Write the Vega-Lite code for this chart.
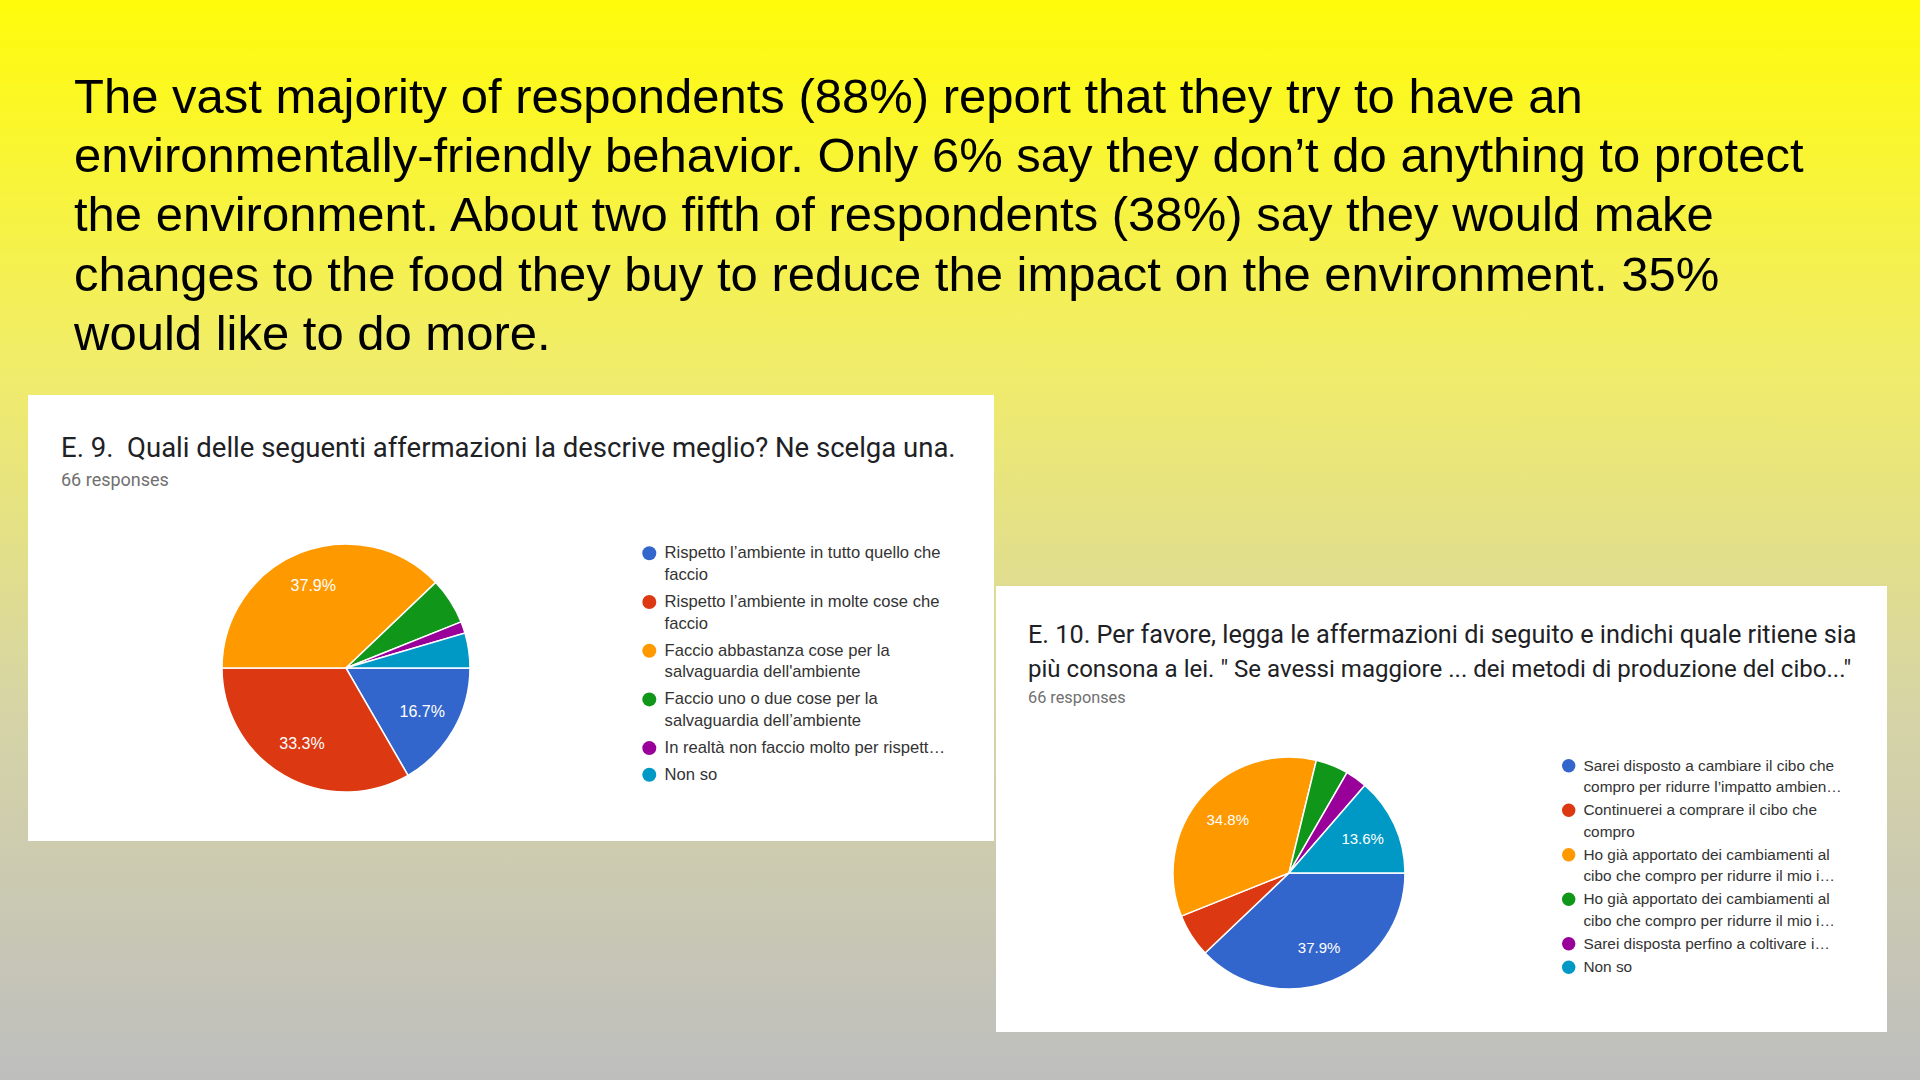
{
  "$schema": "https://vega.github.io/schema/vega-lite/v6.json",
  "width": 1920,
  "height": 1080,
  "autosize": {"type": "fit", "contains": "padding"},
  "padding": 0,
  "background": "#d8d6a0",
  "view": {"stroke": null},
  "config": {
    "style": {"guide-label": {"lineHeight": 21.8}}
  },
  "resolve": {"scale": {"color": "independent"}, "legend": {"color": "independent"}},
  "layer": [
    {
      "data": {"values": [{"part": "slide"}]},
      "mark": {
        "type": "rect", "x": 0, "x2": "width", "y": 0, "y2": "height",
        "fill": {"gradient": "linear", "x1": 0, "y1": 0, "x2": 0, "y2": 1,
          "stops": [
            {"offset": 0, "color": "#fffb0a"},
            {"offset": 0.33, "color": "#f1ed68"},
            {"offset": 0.66, "color": "#d6d4a6"},
            {"offset": 1, "color": "#bebebe"}
          ]}
      },
      "encoding": {}
    },
    {
      "data": {"values": [{"card": "E9"}]},
      "mark": {"type": "rect", "x": 28, "x2": 994, "y": 395, "y2": 841, "fill": "#ffffff"},
      "encoding": {}
    },
    {
      "data": {"values": [{"card": "E10"}]},
      "mark": {"type": "rect", "x": 996, "x2": 1887, "y": 586, "y2": 1032, "fill": "#ffffff"},
      "encoding": {}
    },
    {
      "data": {"values": [{"text": "The vast majority of respondents (88%) report that they try to have an\nenvironmentally-friendly behavior. Only 6% say they don’t do anything to protect\nthe environment. About two fifth of respondents (38%) say they would make\nchanges to the food they buy to reduce the  impact on the environment. 35%\nwould like to do more."}]},
      "mark": {"type": "text", "x": 74, "y": 113, "align": "left", "baseline": "alphabetic", "lineBreak": "\n", "lineHeight": 59.2, "font": "Liberation Sans", "fontSize": 49, "fill": "#000000"},
      "encoding": {"text": {"field": "text", "type": "nominal"}}
    },
    {
      "data": {"values": [{"text": "E. 9.\u00a0 Quali delle seguenti affermazioni la descrive meglio? Ne scelga una."}]},
      "mark": {"type": "text", "x": 61, "y": 457, "align": "left", "baseline": "alphabetic", "font": "Roboto", "fontSize": 27.5, "fill": "#202124"},
      "encoding": {"text": {"field": "text", "type": "nominal"}}
    },
    {
      "data": {"values": [{"text": "66 responses"}]},
      "mark": {"type": "text", "x": 61, "y": 486, "align": "left", "baseline": "alphabetic", "font": "Roboto", "fontSize": 18, "fill": "#707070"},
      "encoding": {"text": {"field": "text", "type": "nominal"}}
    },
    {
      "data": {"values": [{"text": "E. 10. Per favore, legga le affermazioni di seguito e indichi quale ritiene sia"}]},
      "mark": {"type": "text", "x": 1028, "y": 643, "align": "left", "baseline": "alphabetic", "font": "Roboto", "fontSize": 25.25, "fill": "#202124"},
      "encoding": {"text": {"field": "text", "type": "nominal"}}
    },
    {
      "data": {"values": [{"text": "più consona a lei. \" Se avessi maggiore ... dei metodi di produzione del cibo...\""}]},
      "mark": {"type": "text", "x": 1028, "y": 677, "align": "left", "baseline": "alphabetic", "font": "Roboto", "fontSize": 24.05, "fill": "#202124"},
      "encoding": {"text": {"field": "text", "type": "nominal"}}
    },
    {
      "data": {"values": [{"text": "66 responses"}]},
      "mark": {"type": "text", "x": 1028, "y": 703, "align": "left", "baseline": "alphabetic", "font": "Roboto", "fontSize": 16.3, "fill": "#707070"},
      "encoding": {"text": {"field": "text", "type": "nominal"}}
    },
    {
      "data": {"values": [
        {"idx": 1, "answer": "Rispetto l’ambiente in tutto quello che\nfaccio", "count": 11, "label": "16.7%"},
        {"idx": 2, "answer": "Rispetto l’ambiente in molte cose che\nfaccio", "count": 22, "label": "33.3%"},
        {"idx": 3, "answer": "Faccio abbastanza cose per la\nsalvaguardia dell'ambiente", "count": 25, "label": "37.9%"},
        {"idx": 4, "answer": "Faccio uno o due cose per la\nsalvaguardia dell’ambiente", "count": 4, "label": ""},
        {"idx": 5, "answer": "In realtà non faccio molto per rispett…", "count": 1, "label": ""},
        {"idx": 6, "answer": "Non so", "count": 3, "label": ""}
      ]},
      "layer": [
        {
          "mark": {"type": "arc", "x": 346, "y": 668, "radius": 124, "stroke": "#ffffff", "strokeWidth": 1.5},
          "encoding": {
            "theta": {"field": "count", "type": "quantitative", "stack": true, "scale": {"range": [1.5707963, 7.8539816]}},
            "order": {"field": "idx", "type": "quantitative"},
            "color": {
              "field": "answer", "type": "nominal", "sort": {"field": "idx"},
              "scale": {"range": ["#3366cc", "#dc3912", "#ff9900", "#109618", "#990099", "#0099c6"]},
              "legend": {
                "orient": "none", "legendX": 641, "legendY": 545, "title": null,
                "symbolType": "circle", "symbolSize": 196, "symbolStrokeWidth": 0, "symbolOpacity": 1,
                "labelFont": "Liberation Sans", "labelFontSize": 16.6, "labelColor": "#333333",
                "labelLimit": 400, "labelOffset": 7, "rowPadding": 9.7,
                "labelExpr": "split(datum.label, '\\n')"
              }
            }
          }
        },
        {
          "mark": {"type": "text", "x": 346, "y": 668, "radius": 88, "fill": "#ffffff", "font": "Liberation Sans", "fontSize": 16, "align": "center", "baseline": "middle"},
          "encoding": {
            "theta": {"field": "count", "type": "quantitative", "stack": true},
            "order": {"field": "idx", "type": "quantitative"},
            "text": {"field": "label", "type": "nominal"}
          }
        }
      ]
    },
    {
      "data": {"values": [
        {"idx": 1, "answer": "Sarei disposto a cambiare il cibo che\ncompro per ridurre l’impatto ambien…", "count": 25, "label": "37.9%"},
        {"idx": 2, "answer": "Continuerei a comprare il cibo che\ncompro", "count": 4, "label": ""},
        {"idx": 3, "answer": "Ho già apportato dei cambiamenti al\ncibo che compro per ridurre il mio i…", "count": 23, "label": "34.8%"},
        {"idx": 4, "answer": "Ho già apportato dei cambiamenti al\ncibo che compro per ridurre il mio i… ", "count": 3, "label": ""},
        {"idx": 5, "answer": "Sarei disposta perfino a coltivare i…", "count": 2, "label": ""},
        {"idx": 6, "answer": "Non so", "count": 9, "label": "13.6%"}
      ]},
      "layer": [
        {
          "mark": {"type": "arc", "x": 1289, "y": 873, "radius": 116, "stroke": "#ffffff", "strokeWidth": 1.5},
          "encoding": {
            "theta": {"field": "count", "type": "quantitative", "stack": true},
            "order": {"field": "idx", "type": "quantitative"},
            "color": {
              "field": "answer", "type": "nominal", "sort": {"field": "idx"},
              "scale": {"range": ["#3366cc", "#dc3912", "#ff9900", "#109618", "#990099", "#0099c6"]},
              "legend": {
                "orient": "none", "legendX": 1561, "legendY": 758, "title": null,
                "symbolType": "circle", "symbolSize": 180, "symbolStrokeWidth": 0, "symbolOpacity": 1,
                "labelFont": "Liberation Sans", "labelFontSize": 15.4, "labelColor": "#333333",
                "labelLimit": 400, "labelOffset": 7, "rowPadding": 6.5,
                "labelExpr": "split(datum.label, '\\n')"
              }
            }
          }
        },
        {
          "mark": {"type": "text", "x": 1289, "y": 873, "radius": 81, "fill": "#ffffff", "font": "Liberation Sans", "fontSize": 15, "align": "center", "baseline": "middle"},
          "encoding": {
            "theta": {"field": "count", "type": "quantitative", "stack": true},
            "order": {"field": "idx", "type": "quantitative"},
            "text": {"field": "label", "type": "nominal"}
          }
        }
      ]
    }
  ]
}
